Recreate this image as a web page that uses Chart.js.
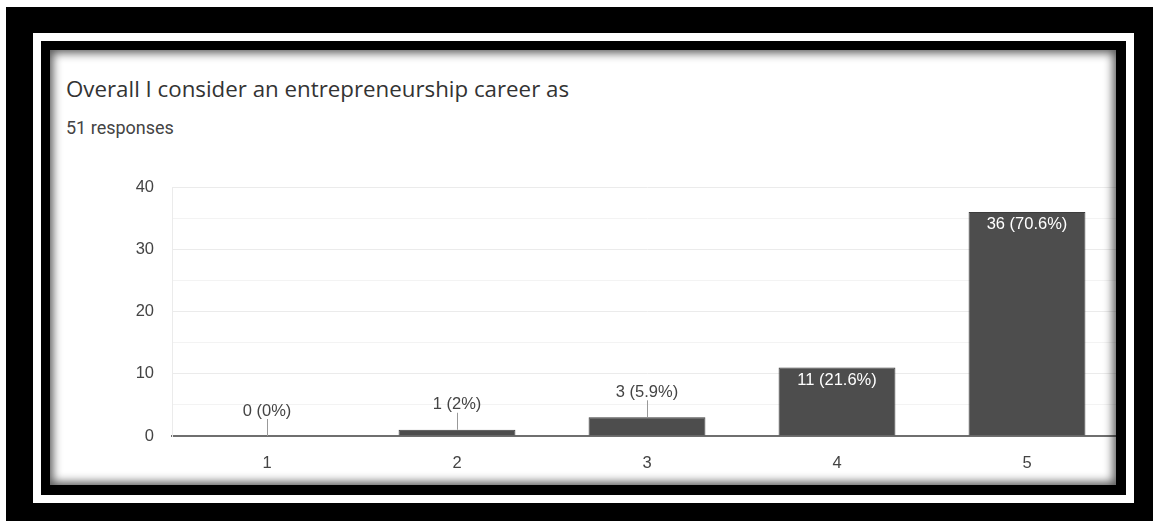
<!DOCTYPE html>
<html>
<head>
<meta charset="utf-8">
<script src="https://cdn.jsdelivr.net/npm/chart.js@4"></script>
<style>
    html, body { margin: 0; padding: 0; background: #fff; }
    body { width: 1153px; height: 521px; position: relative; overflow: hidden; }
    .frame-outer { position: absolute; left: 6px; top: 7px; width: 1147px; height: 514px; background: #000; }
    .frame-band { position: absolute; left: 33px; top: 33px; width: 1101px; height: 470px; background: #fff; }
    .frame-inner { position: absolute; left: 41px; top: 41px; width: 1085px; height: 454px; background: #000; }
    .panel {
        position: absolute; left: 50px; top: 50px; width: 1066px; height: 435px;
        background: #fff; overflow: hidden;
    }
    .panel-shadow {
        position: absolute; left: 0; top: 0; right: 0; bottom: 0;
        box-shadow: inset 0 0 10px 3px rgba(0, 0, 0, 0.65);
        pointer-events: none;
    }
    .title {
        position: absolute; left: 16px; top: 23px; white-space: nowrap;
        font-family: "Open Sans", Roboto, sans-serif; font-size: 22.3px; color: #333;
    }
    .subtitle {
        position: absolute; left: 16px; top: 67px; white-space: nowrap;
        font-family: Roboto, "Liberation Sans", sans-serif; font-size: 18px; color: #444;
    }
    .chart-box { position: absolute; left: 0; top: 0; width: 1080px; height: 435px; }
</style>
</head>
<body>
<div class="frame-outer"></div>
<div class="frame-band"></div>
<div class="frame-inner"></div>
<div class="panel">
    <div class="title">Overall I consider an entrepreneurship career as</div>
    <div class="subtitle">51 responses</div>
    <div class="chart-box"><canvas id="chart"></canvas></div>
    <div class="panel-shadow"></div>
</div>
<script>
// Chart data
const categories = ['1', '2', '3', '4', '5'];
const responses = [0, 1, 3, 11, 36];
const yTicks = [0, 10, 20, 30, 40];

const total = responses.reduce((a, b) => a + b, 0);
const FONT = '"Liberation Sans", Arial, sans-serif';

function labelFor(v) {
    let pct = (v / total * 100).toFixed(1);
    if (pct.endsWith('.0')) pct = pct.slice(0, -2);
    return `${v} (${pct}%)`;
}

// Draw value labels like Google Forms
const valueLabels = {
    id: 'valueLabels',
    afterDatasetsDraw(chart) {
        const ctx = chart.ctx;
        const meta = chart.getDatasetMeta(0);
        ctx.save();
        ctx.font = '16.5px ' + FONT;
        ctx.textAlign = 'center';
        ctx.textBaseline = 'middle';
        meta.data.forEach((bar, i) => {
            const v = responses[i];
            const text = labelFor(v);
            const barH = bar.base - bar.y;
            if (barH > 30) {
                ctx.fillStyle = '#ffffff';
                ctx.fillText(text, bar.x, bar.y + 13);
            } else {
                ctx.strokeStyle = '#999';
                ctx.lineWidth = 1;
                ctx.beginPath();
                ctx.moveTo(Math.round(bar.x) + 0.5, bar.y);
                ctx.lineTo(Math.round(bar.x) + 0.5, bar.y - 17);
                ctx.stroke();
                ctx.fillStyle = '#444';
                ctx.fillText(text, bar.x, bar.y - 25);
            }
        });
        ctx.restore();
    }
};

const ctx = document.getElementById('chart').getContext('2d');
new Chart(ctx, {
    type: 'bar',
    data: {
        labels: categories,
        datasets: [{
            data: responses,
            backgroundColor: '#4d4d4d',
            borderColor: '#3d3d3d',
            borderWidth: 1,
            categoryPercentage: 1,
            barPercentage: 0.615
        }]
    },
    options: {
        responsive: true,
        maintainAspectRatio: false,
        animation: false,
        layout: { padding: { top: 137, right: 8, left: 0, bottom: 0 } },
        plugins: {
            legend: { display: false },
            tooltip: { enabled: false }
        },
        scales: {
            x: {
                grid: { display: false },
                border: { display: true, color: '#6f6f6f', width: 2 },
                ticks: {
                    color: '#444',
                    padding: 10,
                    font: { family: FONT, size: 16.5 }
                },
                afterFit: (scale) => { scale.height = 49; }
            },
            y: {
                min: 0,
                max: 40,
                ticks: {
                    stepSize: 5,
                    color: '#444',
                    padding: 18,
                    font: { family: FONT, size: 16.5 },
                    callback: (v) => yTicks.includes(v) ? v : ''
                },
                grid: {
                    drawTicks: false,
                    color: (c) => (c.tick && c.tick.value % 10 === 0) ? '#ebebeb' : '#f3f3f3'
                },
                border: { display: true, color: '#ebebeb' },
                afterFit: (scale) => { scale.width = 122; }
            }
        }
    },
    plugins: [valueLabels]
});
</script>
</body>
</html>
